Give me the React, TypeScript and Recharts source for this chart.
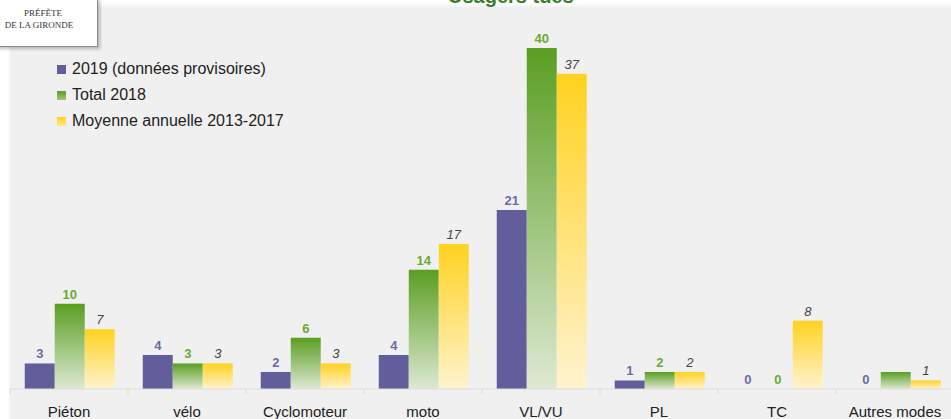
import React from 'react';
import { BarChart, Bar, XAxis, YAxis, LabelList } from 'recharts';

const categories = ['Piéton', 'vélo', 'Cyclomoteur', 'moto', 'VL/VU', 'PL', 'TC', 'Autres modes'];
const values2019 = [3, 4, 2, 4, 21, 1, 0, 0];
const values2018 = [10, 3, 6, 14, 40, 2, 0, 2];
const labels2018: (number | null)[] = [10, 3, 6, 14, 40, 2, 0, null];
const valuesAvg = [7, 3, 3, 17, 37, 2, 8, 1];
const seriesNames = ['2019 (données provisoires)', 'Total 2018', 'Moyenne annuelle 2013-2017'];

const data = categories.map((c, i) => ({
  name: c,
  v2019: values2019[i],
  v2018: values2018[i],
  l2018: labels2018[i],
  avg: valuesAvg[i],
}));

const FONT = '"Liberation Sans", Arial, sans-serif';
const CHART_W = 954;
const PLOT_LEFT = 10;
const BAND = (CHART_W - PLOT_LEFT) / categories.length;

const Tick = (props: any) => {
  const { x, y, payload } = props;
  return (
    <g>
      <line x1={x - BAND / 2} x2={x - BAND / 2} y1={y - 8} y2={y - 3} stroke="#d8d8d8" />
      <text x={x} y={y + 20} textAnchor="middle" fontFamily={FONT} fontSize={15} fill="#222">
        {payload.value}
      </text>
    </g>
  );
};

const legendItems = [
  { name: seriesNames[0], top: '#625e9c', bottom: '#625e9c' },
  { name: seriesNames[1], top: '#5a9e22', bottom: '#9cc77a' },
  { name: seriesNames[2], top: '#ffd21f', bottom: '#ffe680' },
];

export default function App() {
  return (
    <div style={{ position: 'absolute', left: 0, top: 0, width: 951, height: 419, overflow: 'hidden', background: '#fff' }}>
      <div style={{ position: 'absolute', left: 10, top: 7, width: 960, height: 420, background: '#f0f0f0', boxShadow: '0 -2px 4px rgba(0,0,0,0.06)' }} />
      <div style={{ position: 'absolute', left: 0, top: 0 }}>
        <BarChart width={CHART_W} height={419} data={data} margin={{ top: 14, right: 0, left: PLOT_LEFT, bottom: 0 }} barCategoryGap="12.5%" barGap={0}>
          <defs>
            <linearGradient id="gGreen" x1="0" y1="0" x2="0" y2="1">
              <stop offset="0%" stopColor="#5a9e22" />
              <stop offset="100%" stopColor="#dde9d2" />
            </linearGradient>
            <linearGradient id="gYellow" x1="0" y1="0" x2="0" y2="1">
              <stop offset="0%" stopColor="#ffd21f" />
              <stop offset="100%" stopColor="#fff3cf" />
            </linearGradient>
          </defs>
          <XAxis dataKey="name" axisLine={{ stroke: '#dcdcdc' }} tickLine={false} tick={<Tick />} height={30} interval={0} />
          <YAxis hide domain={[0, 44]} />
          <Bar dataKey="v2019" fill="#625e9c" minPointSize={0.01} isAnimationActive={false}>
            <LabelList dataKey="v2019" position="top" offset={5} fill="#6e6aa8" fontFamily={FONT} fontSize={13} fontWeight="bold" />
          </Bar>
          <Bar dataKey="v2018" fill="url(#gGreen)" minPointSize={0.01} isAnimationActive={false}>
            <LabelList dataKey="l2018" position="top" offset={5} fill="#6aaa30" fontFamily={FONT} fontSize={13} fontWeight="bold" />
          </Bar>
          <Bar dataKey="avg" fill="url(#gYellow)" minPointSize={0.01} isAnimationActive={false}>
            <LabelList dataKey="avg" position="top" offset={5} fill="#444" fontFamily={FONT} fontSize={13} fontStyle="italic" />
          </Bar>
        </BarChart>
      </div>
      <div style={{ position: 'absolute', left: 57, top: 56, fontFamily: FONT, fontSize: 16, color: '#222' }}>
        {legendItems.map((it, i) => (
          <div key={it.name} style={{ height: 26, display: 'flex', alignItems: 'center' }}>
            <svg width={15} height={10}>
              <defs>
                <linearGradient id={'lg' + i} x1="0" y1="0" x2="0" y2="1">
                  <stop offset="0%" stopColor={it.top} />
                  <stop offset="100%" stopColor={it.bottom} />
                </linearGradient>
              </defs>
              <rect x={0} y={1} width={9} height={9} fill={'url(#lg' + i + ')'} />
            </svg>
            <span>{it.name}</span>
          </div>
        ))}
      </div>
      <div style={{ position: 'absolute', left: -20, top: -2, width: 118, height: 49, background: '#fff', border: '1px solid #8a8a8a', boxShadow: '2px 2px 3px rgba(0,0,0,0.25)', fontFamily: '"Liberation Serif", "DejaVu Serif", serif', fontSize: 9, color: '#333', textAlign: 'center', lineHeight: '12px', paddingTop: 8, boxSizing: 'border-box' }}>
        <div style={{ paddingLeft: 8 }}>PRÉFÈTE</div>
        <div>DE LA GIRONDE</div>
      </div>
      <div style={{ position: 'absolute', left: 448, top: -15, fontFamily: FONT, fontSize: 20, fontWeight: 'bold', color: '#3a7d2c', whiteSpace: 'nowrap' }}>
        Usagers tués
      </div>
    </div>
  );
}
